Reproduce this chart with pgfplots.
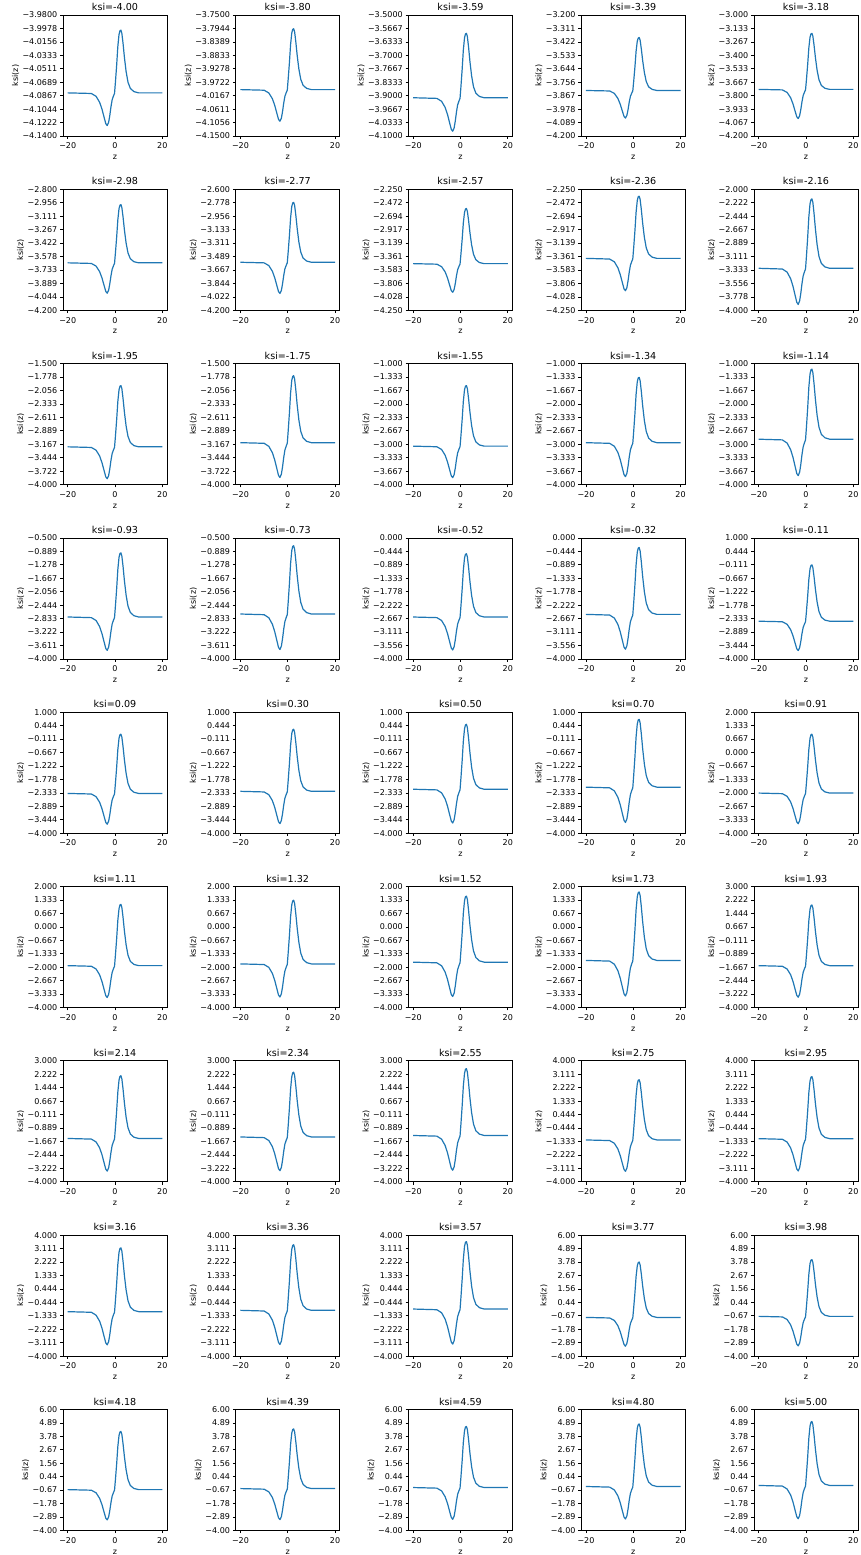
\documentclass[border=0pt]{standalone}
\usepackage{fontspec}
\setmainfont{DejaVu Sans}
\usepackage{pgfplots}
\pgfplotsset{compat=1.18}
\definecolor{mplblue}{HTML}{1F77B4}
\pgfplotsset{
 every axis title shift=0pt,
 panel/.style={scale only axis, width=104pt, height=121pt, anchor=north west,
  xmin=-22, xmax=22, xtick={-20,0,20}, xticklabels={−20,0,20},
  tick align=outside, major tick length=2.8pt,
  xtick pos=left, ytick pos=left,
  tick style={black, line width=0.64pt},
  axis line style={black, line width=0.64pt},
  ticklabel style={font=\fontsize{8}{9.6}\selectfont},
  xticklabel style={anchor=north, inner sep=0pt, yshift=-3.8pt},
  yticklabel style={anchor=east, inner sep=0pt, xshift=-2.8pt},
  xlabel={z}, ylabel={ksi(z)},
  label style={font=\fontsize{8}{9.6}\selectfont},
  xlabel style={at={(axis description cs:0.5,0)}, anchor=base, inner sep=0pt, yshift=-23.6pt},
  ylabel style={inner sep=3.2pt},
  title style={font=\fontsize{9.6}{11.5}\selectfont, at={(0.5,1)}, anchor=base, inner sep=0pt, yshift=4.3pt},
 },
 curve/.style={mplblue, line width=1.2pt, no markers, line join=round},
 rA/.style={ymin=-4.14,ymax=-3.98, ytick={-4.14,-4.12222,-4.10444,-4.08667,-4.06889,-4.05111,-4.03333,-4.01556,-3.99778,-3.98}, yticklabels={−4.1400,−4.1222,−4.1044,−4.0867,−4.0689,−4.0511,−4.0333,−4.0156,−3.9978,−3.9800}},
 rB/.style={ymin=-4.15,ymax=-3.75, ytick={-4.15,-4.10556,-4.06111,-4.01667,-3.97222,-3.92778,-3.88333,-3.83889,-3.79444,-3.75}, yticklabels={−4.1500,−4.1056,−4.0611,−4.0167,−3.9722,−3.9278,−3.8833,−3.8389,−3.7944,−3.7500}},
 rC/.style={ymin=-4.1,ymax=-3.5, ytick={-4.1,-4.03333,-3.96667,-3.9,-3.83333,-3.76667,-3.7,-3.63333,-3.56667,-3.5}, yticklabels={−4.1000,−4.0333,−3.9667,−3.9000,−3.8333,−3.7667,−3.7000,−3.6333,−3.5667,−3.5000}},
 rD/.style={ymin=-4.2,ymax=-3.2, ytick={-4.2,-4.08889,-3.97778,-3.86667,-3.75556,-3.64444,-3.53333,-3.42222,-3.31111,-3.2}, yticklabels={−4.200,−4.089,−3.978,−3.867,−3.756,−3.644,−3.533,−3.422,−3.311,−3.200}},
 rE/.style={ymin=-4.2,ymax=-3.0, ytick={-4.2,-4.06667,-3.93333,-3.8,-3.66667,-3.53333,-3.4,-3.26667,-3.13333,-3.0}, yticklabels={−4.200,−4.067,−3.933,−3.800,−3.667,−3.533,−3.400,−3.267,−3.133,−3.000}},
 rF/.style={ymin=-4.2,ymax=-2.8, ytick={-4.2,-4.04444,-3.88889,-3.73333,-3.57778,-3.42222,-3.26667,-3.11111,-2.95556,-2.8}, yticklabels={−4.200,−4.044,−3.889,−3.733,−3.578,−3.422,−3.267,−3.111,−2.956,−2.800}},
 rG/.style={ymin=-4.2,ymax=-2.6, ytick={-4.2,-4.02222,-3.84444,-3.66667,-3.48889,-3.31111,-3.13333,-2.95556,-2.77778,-2.6}, yticklabels={−4.200,−4.022,−3.844,−3.667,−3.489,−3.311,−3.133,−2.956,−2.778,−2.600}},
 rH/.style={ymin=-4.25,ymax=-2.25, ytick={-4.25,-4.02778,-3.80556,-3.58333,-3.36111,-3.13889,-2.91667,-2.69444,-2.47222,-2.25}, yticklabels={−4.250,−4.028,−3.806,−3.583,−3.361,−3.139,−2.917,−2.694,−2.472,−2.250}},
 rI/.style={ymin=-4,ymax=-2, ytick={-4,-3.77778,-3.55556,-3.33333,-3.11111,-2.88889,-2.66667,-2.44444,-2.22222,-2}, yticklabels={−4.000,−3.778,−3.556,−3.333,−3.111,−2.889,−2.667,−2.444,−2.222,−2.000}},
 rJ/.style={ymin=-4,ymax=-1.5, ytick={-4,-3.72222,-3.44444,-3.16667,-2.88889,-2.61111,-2.33333,-2.05556,-1.77778,-1.5}, yticklabels={−4.000,−3.722,−3.444,−3.167,−2.889,−2.611,−2.333,−2.056,−1.778,−1.500}},
 rK/.style={ymin=-4,ymax=-1, ytick={-4,-3.66667,-3.33333,-3,-2.66667,-2.33333,-2,-1.66667,-1.33333,-1}, yticklabels={−4.000,−3.667,−3.333,−3.000,−2.667,−2.333,−2.000,−1.667,−1.333,−1.000}},
 rL/.style={ymin=-4,ymax=-0.5, ytick={-4,-3.61111,-3.22222,-2.83333,-2.44444,-2.05556,-1.66667,-1.27778,-0.88889,-0.5}, yticklabels={−4.000,−3.611,−3.222,−2.833,−2.444,−2.056,−1.667,−1.278,−0.889,−0.500}},
 rM/.style={ymin=-4,ymax=0, ytick={-4,-3.55556,-3.11111,-2.66667,-2.22222,-1.77778,-1.33333,-0.88889,-0.44444,0}, yticklabels={−4.000,−3.556,−3.111,−2.667,−2.222,−1.778,−1.333,−0.889,−0.444,0.000}},
 rN/.style={ymin=-4,ymax=1, ytick={-4,-3.44444,-2.88889,-2.33333,-1.77778,-1.22222,-0.66667,-0.11111,0.44444,1}, yticklabels={−4.000,−3.444,−2.889,−2.333,−1.778,−1.222,−0.667,−0.111,0.444,1.000}},
 rO/.style={ymin=-4,ymax=2, ytick={-4,-3.33333,-2.66667,-2,-1.33333,-0.66667,0,0.66667,1.33333,2}, yticklabels={−4.000,−3.333,−2.667,−2.000,−1.333,−0.667,0.000,0.667,1.333,2.000}},
 rP/.style={ymin=-4,ymax=3, ytick={-4,-3.22222,-2.44444,-1.66667,-0.88889,-0.11111,0.66667,1.44444,2.22222,3}, yticklabels={−4.000,−3.222,−2.444,−1.667,−0.889,−0.111,0.667,1.444,2.222,3.000}},
 rQ/.style={ymin=-4,ymax=4, ytick={-4,-3.11111,-2.22222,-1.33333,-0.44444,0.44444,1.33333,2.22222,3.11111,4}, yticklabels={−4.000,−3.111,−2.222,−1.333,−0.444,0.444,1.333,2.222,3.111,4.000}},
 rR/.style={ymin=-4,ymax=6, ytick={-4,-2.88889,-1.77778,-0.66667,0.44444,1.55556,2.66667,3.77778,4.88889,6}, yticklabels={−4.00,−2.89,−1.78,−0.67,0.44,1.56,2.67,3.78,4.89,6.00}},
}
\newcommand{\pan}[5]{\begin{axis}[panel,#4,at={(#1pt,#2pt)},title={ksi=#3}]\addplot[curve] coordinates {#5};\end{axis}}
\begin{document}
\begin{tikzpicture}
% row 1
\pan{63}{1540}{-4.00}{rA}{(-20,-4.0830)(-10,-4.0838)(-8,-4.0876)(-6.5,-4.0955)(-5.5,-4.1046)(-4.6,-4.1154)(-3.9,-4.1237)(-3.3,-4.1262)(-2.7,-4.1220)(-2.2,-4.1129)(-1.7,-4.1013)(-1.2,-4.0921)(-0.6,-4.0867)(-0.2,-4.0838)(0.2,-4.0681)(0.7,-4.0465)(1.2,-4.0216)(1.7,-4.0058)(2.1,-4.0008)(2.5,-4.0000)(2.9,-4.0042)(3.4,-4.0174)(4,-4.0365)(4.7,-4.0548)(5.5,-4.0689)(6.5,-4.0772)(8,-4.0813)(10,-4.0830)(20,-4.0830)}
\pan{235.75}{1540}{-3.80}{rB}{(-20,-3.9967)(-10,-3.9987)(-8,-4.0078)(-6.5,-4.0269)(-5.5,-4.0490)(-4.6,-4.0752)(-3.9,-4.0953)(-3.3,-4.1013)(-2.7,-4.0913)(-2.2,-4.0691)(-1.7,-4.0410)(-1.2,-4.0188)(-0.6,-4.0058)(-0.2,-3.9987)(0.2,-3.9605)(0.7,-3.9082)(1.2,-3.8478)(1.7,-3.8096)(2.1,-3.7975)(2.5,-3.7955)(2.9,-3.8056)(3.4,-3.8378)(4,-3.8840)(4.7,-3.9283)(5.5,-3.9625)(6.5,-3.9826)(8,-3.9927)(10,-3.9967)(20,-3.9967)}
\pan{408.5}{1540}{-3.59}{rC}{(-20,-3.9104)(-10,-3.9136)(-8,-3.9280)(-6.5,-3.9583)(-5.5,-3.9935)(-4.6,-4.0350)(-3.9,-4.0670)(-3.3,-4.0765)(-2.7,-4.0606)(-2.2,-4.0254)(-1.7,-3.9807)(-1.2,-3.9456)(-0.6,-3.9248)(-0.2,-3.9136)(0.2,-3.8529)(0.7,-3.7698)(1.2,-3.6740)(1.7,-3.6133)(2.1,-3.5941)(2.5,-3.5909)(2.9,-3.6069)(3.4,-3.6580)(4,-3.7315)(4.7,-3.8018)(5.5,-3.8561)(6.5,-3.8880)(8,-3.9040)(10,-3.9104)(20,-3.9104)}
\pan{581.25}{1540}{-3.39}{rD}{(-20,-3.824)(-10,-3.828)(-8,-3.848)(-6.5,-3.890)(-5.5,-3.938)(-4.6,-3.995)(-3.9,-4.039)(-3.3,-4.052)(-2.7,-4.030)(-2.2,-3.982)(-1.7,-3.920)(-1.2,-3.872)(-0.6,-3.844)(-0.2,-3.828)(0.2,-3.745)(0.7,-3.632)(1.2,-3.500)(1.7,-3.417)(2.1,-3.391)(2.5,-3.386)(2.9,-3.408)(3.4,-3.478)(4,-3.579)(4.7,-3.675)(5.5,-3.750)(6.5,-3.794)(8,-3.815)(10,-3.824)(20,-3.824)}
\pan{754}{1540}{-3.18}{rE}{(-20,-3.738)(-10,-3.743)(-8,-3.768)(-6.5,-3.821)(-5.5,-3.882)(-4.6,-3.955)(-3.9,-4.010)(-3.3,-4.027)(-2.7,-3.999)(-2.2,-3.938)(-1.7,-3.860)(-1.2,-3.799)(-0.6,-3.763)(-0.2,-3.743)(0.2,-3.638)(0.7,-3.493)(1.2,-3.326)(1.7,-3.221)(2.1,-3.187)(2.5,-3.182)(2.9,-3.210)(3.4,-3.299)(4,-3.426)(4.7,-3.549)(5.5,-3.643)(6.5,-3.699)(8,-3.727)(10,-3.738)(20,-3.738)}
% row 2
\pan{63}{1365.7}{-2.98}{rF}{(-20,-3.651)(-10,-3.658)(-8,-3.689)(-6.5,-3.753)(-5.5,-3.827)(-4.6,-3.914)(-3.9,-3.982)(-3.3,-4.002)(-2.7,-3.968)(-2.2,-3.894)(-1.7,-3.800)(-1.2,-3.726)(-0.6,-3.682)(-0.2,-3.658)(0.2,-3.530)(0.7,-3.355)(1.2,-3.153)(1.7,-3.024)(2.1,-2.984)(2.5,-2.977)(2.9,-3.011)(3.4,-3.119)(4,-3.274)(4.7,-3.422)(5.5,-3.537)(6.5,-3.604)(8,-3.638)(10,-3.651)(20,-3.651)}
\pan{235.75}{1365.7}{-2.77}{rG}{(-20,-3.565)(-10,-3.573)(-8,-3.609)(-6.5,-3.684)(-5.5,-3.771)(-4.6,-3.874)(-3.9,-3.953)(-3.3,-3.977)(-2.7,-3.938)(-2.2,-3.850)(-1.7,-3.739)(-1.2,-3.652)(-0.6,-3.601)(-0.2,-3.573)(0.2,-3.423)(0.7,-3.216)(1.2,-2.979)(1.7,-2.828)(2.1,-2.781)(2.5,-2.773)(2.9,-2.812)(3.4,-2.939)(4,-3.121)(4.7,-3.296)(5.5,-3.430)(6.5,-3.510)(8,-3.549)(10,-3.565)(20,-3.565)}
\pan{408.5}{1365.7}{-2.57}{rH}{(-20,-3.479)(-10,-3.488)(-8,-3.529)(-6.5,-3.615)(-5.5,-3.716)(-4.6,-3.834)(-3.9,-3.925)(-3.3,-3.952)(-2.7,-3.907)(-2.2,-3.807)(-1.7,-3.679)(-1.2,-3.579)(-0.6,-3.520)(-0.2,-3.488)(0.2,-3.315)(0.7,-3.078)(1.2,-2.805)(1.7,-2.632)(2.1,-2.577)(2.5,-2.568)(2.9,-2.614)(3.4,-2.759)(4,-2.969)(4.7,-3.169)(5.5,-3.324)(6.5,-3.415)(8,-3.461)(10,-3.479)(20,-3.479)}
\pan{581.25}{1365.7}{-2.36}{rH}{(-20,-3.392)(-10,-3.403)(-8,-3.449)(-6.5,-3.547)(-5.5,-3.660)(-4.6,-3.794)(-3.9,-3.897)(-3.3,-3.927)(-2.7,-3.876)(-2.2,-3.763)(-1.7,-3.619)(-1.2,-3.506)(-0.6,-3.439)(-0.2,-3.403)(0.2,-3.207)(0.7,-2.940)(1.2,-2.631)(1.7,-2.436)(2.1,-2.374)(2.5,-2.364)(2.9,-2.415)(3.4,-2.580)(4,-2.816)(4.7,-3.043)(5.5,-3.218)(6.5,-3.320)(8,-3.372)(10,-3.392)(20,-3.392)}
\pan{754}{1365.7}{-2.16}{rI}{(-20,-3.306)(-10,-3.318)(-8,-3.369)(-6.5,-3.478)(-5.5,-3.604)(-4.6,-3.754)(-3.9,-3.868)(-3.3,-3.903)(-2.7,-3.845)(-2.2,-3.719)(-1.7,-3.559)(-1.2,-3.432)(-0.6,-3.358)(-0.2,-3.318)(0.2,-3.100)(0.7,-2.801)(1.2,-2.457)(1.7,-2.239)(2.1,-2.171)(2.5,-2.159)(2.9,-2.216)(3.4,-2.400)(4,-2.664)(4.7,-2.916)(5.5,-3.111)(6.5,-3.226)(8,-3.283)(10,-3.306)(20,-3.306)}
% row 3
\pan{63}{1191.4}{-1.95}{rJ}{(-20,-3.220)(-10,-3.233)(-8,-3.289)(-6.5,-3.410)(-5.5,-3.549)(-4.6,-3.713)(-3.9,-3.840)(-3.3,-3.878)(-2.7,-3.815)(-2.2,-3.675)(-1.7,-3.498)(-1.2,-3.359)(-0.6,-3.277)(-0.2,-3.233)(0.2,-2.992)(0.7,-2.663)(1.2,-2.284)(1.7,-2.043)(2.1,-1.967)(2.5,-1.955)(2.9,-2.018)(3.4,-2.220)(4,-2.511)(4.7,-2.790)(5.5,-3.005)(6.5,-3.131)(8,-3.195)(10,-3.220)(20,-3.220)}
\pan{235.75}{1191.4}{-1.75}{rJ}{(-20,-3.134)(-10,-3.147)(-8,-3.210)(-6.5,-3.341)(-5.5,-3.493)(-4.6,-3.673)(-3.9,-3.811)(-3.3,-3.853)(-2.7,-3.784)(-2.2,-3.632)(-1.7,-3.438)(-1.2,-3.286)(-0.6,-3.196)(-0.2,-3.147)(0.2,-2.884)(0.7,-2.525)(1.2,-2.110)(1.7,-1.847)(2.1,-1.764)(2.5,-1.750)(2.9,-1.819)(3.4,-2.041)(4,-2.359)(4.7,-2.663)(5.5,-2.898)(6.5,-3.037)(8,-3.106)(10,-3.134)(20,-3.134)}
\pan{408.5}{1191.4}{-1.55}{rK}{(-20,-3.047)(-10,-3.062)(-8,-3.130)(-6.5,-3.272)(-5.5,-3.438)(-4.6,-3.633)(-3.9,-3.783)(-3.3,-3.828)(-2.7,-3.753)(-2.2,-3.588)(-1.7,-3.378)(-1.2,-3.212)(-0.6,-3.115)(-0.2,-3.062)(0.2,-2.777)(0.7,-2.386)(1.2,-1.936)(1.7,-1.650)(2.1,-1.560)(2.5,-1.545)(2.9,-1.620)(3.4,-1.861)(4,-2.206)(4.7,-2.537)(5.5,-2.792)(6.5,-2.942)(8,-3.017)(10,-3.047)(20,-3.047)}
\pan{581.25}{1191.4}{-1.34}{rK}{(-20,-2.961)(-10,-2.977)(-8,-3.050)(-6.5,-3.204)(-5.5,-3.382)(-4.6,-3.593)(-3.9,-3.755)(-3.3,-3.803)(-2.7,-3.722)(-2.2,-3.544)(-1.7,-3.317)(-1.2,-3.139)(-0.6,-3.034)(-0.2,-2.977)(0.2,-2.669)(0.7,-2.248)(1.2,-1.762)(1.7,-1.454)(2.1,-1.357)(2.5,-1.341)(2.9,-1.422)(3.4,-1.681)(4,-2.054)(4.7,-2.410)(5.5,-2.685)(6.5,-2.847)(8,-2.928)(10,-2.961)(20,-2.961)}
\pan{754}{1191.4}{-1.14}{rK}{(-20,-2.875)(-10,-2.892)(-8,-2.970)(-6.5,-3.135)(-5.5,-3.326)(-4.6,-3.552)(-3.9,-3.726)(-3.3,-3.778)(-2.7,-3.692)(-2.2,-3.500)(-1.7,-3.257)(-1.2,-3.066)(-0.6,-2.953)(-0.2,-2.892)(0.2,-2.562)(0.7,-2.110)(1.2,-1.588)(1.7,-1.258)(2.1,-1.154)(2.5,-1.136)(2.9,-1.223)(3.4,-1.501)(4,-1.901)(4.7,-2.284)(5.5,-2.579)(6.5,-2.753)(8,-2.840)(10,-2.875)(20,-2.875)}
% row 4
\pan{63}{1017.1}{-0.93}{rL}{(-20,-2.788)(-10,-2.807)(-8,-2.890)(-6.5,-3.067)(-5.5,-3.271)(-4.6,-3.512)(-3.9,-3.698)(-3.3,-3.754)(-2.7,-3.661)(-2.2,-3.457)(-1.7,-3.197)(-1.2,-2.992)(-0.6,-2.872)(-0.2,-2.807)(0.2,-2.454)(0.7,-1.971)(1.2,-1.414)(1.7,-1.062)(2.1,-0.950)(2.5,-0.932)(2.9,-1.025)(3.4,-1.322)(4,-1.749)(4.7,-2.157)(5.5,-2.473)(6.5,-2.658)(8,-2.751)(10,-2.788)(20,-2.788)}
\pan{235.75}{1017.1}{-0.73}{rL}{(-20,-2.702)(-10,-2.722)(-8,-2.811)(-6.5,-2.998)(-5.5,-3.215)(-4.6,-3.472)(-3.9,-3.670)(-3.3,-3.729)(-2.7,-3.630)(-2.2,-3.413)(-1.7,-3.136)(-1.2,-2.919)(-0.6,-2.791)(-0.2,-2.722)(0.2,-2.347)(0.7,-1.833)(1.2,-1.241)(1.7,-0.865)(2.1,-0.747)(2.5,-0.727)(2.9,-0.826)(3.4,-1.142)(4,-1.596)(4.7,-2.031)(5.5,-2.366)(6.5,-2.564)(8,-2.662)(10,-2.702)(20,-2.702)}
\pan{408.5}{1017.1}{-0.52}{rM}{(-20,-2.616)(-10,-2.636)(-8,-2.731)(-6.5,-2.929)(-5.5,-3.160)(-4.6,-3.432)(-3.9,-3.641)(-3.3,-3.704)(-2.7,-3.599)(-2.2,-3.369)(-1.7,-3.076)(-1.2,-2.846)(-0.6,-2.710)(-0.2,-2.636)(0.2,-2.239)(0.7,-1.695)(1.2,-1.067)(1.7,-0.669)(2.1,-0.544)(2.5,-0.523)(2.9,-0.627)(3.4,-0.962)(4,-1.444)(4.7,-1.904)(5.5,-2.260)(6.5,-2.469)(8,-2.574)(10,-2.616)(20,-2.616)}
\pan{581.25}{1017.1}{-0.32}{rM}{(-20,-2.529)(-10,-2.551)(-8,-2.651)(-6.5,-2.861)(-5.5,-3.104)(-4.6,-3.392)(-3.9,-3.613)(-3.3,-3.679)(-2.7,-3.568)(-2.2,-3.325)(-1.7,-3.016)(-1.2,-2.772)(-0.6,-2.629)(-0.2,-2.551)(0.2,-2.131)(0.7,-1.556)(1.2,-0.893)(1.7,-0.473)(2.1,-0.340)(2.5,-0.318)(2.9,-0.429)(3.4,-0.782)(4,-1.291)(4.7,-1.777)(5.5,-2.153)(6.5,-2.374)(8,-2.485)(10,-2.529)(20,-2.529)}
\pan{754}{1017.1}{-0.11}{rN}{(-20,-2.443)(-10,-2.466)(-8,-2.571)(-6.5,-2.792)(-5.5,-3.049)(-4.6,-3.351)(-3.9,-3.584)(-3.3,-3.654)(-2.7,-3.538)(-2.2,-3.282)(-1.7,-2.955)(-1.2,-2.699)(-0.6,-2.548)(-0.2,-2.466)(0.2,-2.024)(0.7,-1.418)(1.2,-0.719)(1.7,-0.277)(2.1,-0.137)(2.5,-0.114)(2.9,-0.230)(3.4,-0.603)(4,-1.138)(4.7,-1.651)(5.5,-2.047)(6.5,-2.280)(8,-2.396)(10,-2.443)(20,-2.443)}
% row 5
\pan{63}{842.8}{0.09}{rN}{(-20,-2.357)(-10,-2.381)(-8,-2.491)(-6.5,-2.724)(-5.5,-2.993)(-4.6,-3.311)(-3.9,-3.556)(-3.3,-3.629)(-2.7,-3.507)(-2.2,-3.238)(-1.7,-2.895)(-1.2,-2.626)(-0.6,-2.467)(-0.2,-2.381)(0.2,-1.916)(0.7,-1.280)(1.2,-0.545)(1.7,-0.080)(2.1,0.067)(2.5,0.091)(2.9,-0.031)(3.4,-0.423)(4,-0.986)(4.7,-1.524)(5.5,-1.941)(6.5,-2.185)(8,-2.308)(10,-2.357)(20,-2.357)}
\pan{235.75}{842.8}{0.30}{rN}{(-20,-2.270)(-10,-2.296)(-8,-2.411)(-6.5,-2.655)(-5.5,-2.937)(-4.6,-3.271)(-3.9,-3.527)(-3.3,-3.604)(-2.7,-3.476)(-2.2,-3.194)(-1.7,-2.835)(-1.2,-2.552)(-0.6,-2.386)(-0.2,-2.296)(0.2,-1.808)(0.7,-1.141)(1.2,-0.372)(1.7,0.116)(2.1,0.270)(2.5,0.296)(2.9,0.167)(3.4,-0.243)(4,-0.833)(4.7,-1.398)(5.5,-1.834)(6.5,-2.091)(8,-2.219)(10,-2.270)(20,-2.270)}
\pan{408.5}{842.8}{0.50}{rN}{(-20,-2.184)(-10,-2.211)(-8,-2.332)(-6.5,-2.587)(-5.5,-2.882)(-4.6,-3.231)(-3.9,-3.499)(-3.3,-3.580)(-2.7,-3.445)(-2.2,-3.150)(-1.7,-2.774)(-1.2,-2.479)(-0.6,-2.305)(-0.2,-2.211)(0.2,-1.701)(0.7,-1.003)(1.2,-0.198)(1.7,0.312)(2.1,0.473)(2.5,0.500)(2.9,0.366)(3.4,-0.064)(4,-0.681)(4.7,-1.271)(5.5,-1.728)(6.5,-1.996)(8,-2.130)(10,-2.184)(20,-2.184)}
\pan{581.25}{842.8}{0.70}{rN}{(-20,-2.098)(-10,-2.126)(-8,-2.252)(-6.5,-2.518)(-5.5,-2.826)(-4.6,-3.191)(-3.9,-3.471)(-3.3,-3.555)(-2.7,-3.415)(-2.2,-3.106)(-1.7,-2.714)(-1.2,-2.406)(-0.6,-2.224)(-0.2,-2.126)(0.2,-1.593)(0.7,-0.865)(1.2,-0.024)(1.7,0.509)(2.1,0.677)(2.5,0.705)(2.9,0.565)(3.4,0.116)(4,-0.528)(4.7,-1.145)(5.5,-1.621)(6.5,-1.901)(8,-2.042)(10,-2.098)(20,-2.098)}
\pan{754}{842.8}{0.91}{rO}{(-20,-2.011)(-10,-2.041)(-8,-2.172)(-6.5,-2.449)(-5.5,-2.771)(-4.6,-3.150)(-3.9,-3.442)(-3.3,-3.530)(-2.7,-3.384)(-2.2,-3.063)(-1.7,-2.654)(-1.2,-2.333)(-0.6,-2.143)(-0.2,-2.041)(0.2,-1.486)(0.7,-0.726)(1.2,0.150)(1.7,0.705)(2.1,0.880)(2.5,0.909)(2.9,0.763)(3.4,0.296)(4,-0.376)(4.7,-1.018)(5.5,-1.515)(6.5,-1.807)(8,-1.953)(10,-2.011)(20,-2.011)}
% row 6
\pan{63}{668.5}{1.11}{rO}{(-20,-1.925)(-10,-1.955)(-8,-2.092)(-6.5,-2.381)(-5.5,-2.715)(-4.6,-3.110)(-3.9,-3.414)(-3.3,-3.505)(-2.7,-3.353)(-2.2,-3.019)(-1.7,-2.593)(-1.2,-2.259)(-0.6,-2.062)(-0.2,-1.955)(0.2,-1.378)(0.7,-0.588)(1.2,0.324)(1.7,0.901)(2.1,1.084)(2.5,1.114)(2.9,0.962)(3.4,0.476)(4,-0.223)(4.7,-0.892)(5.5,-1.408)(6.5,-1.712)(8,-1.864)(10,-1.925)(20,-1.925)}
\pan{235.75}{668.5}{1.32}{rO}{(-20,-1.839)(-10,-1.870)(-8,-2.012)(-6.5,-2.312)(-5.5,-2.659)(-4.6,-3.070)(-3.9,-3.386)(-3.3,-3.480)(-2.7,-3.322)(-2.2,-2.975)(-1.7,-2.533)(-1.2,-2.186)(-0.6,-1.981)(-0.2,-1.870)(0.2,-1.270)(0.7,-0.450)(1.2,0.498)(1.7,1.097)(2.1,1.287)(2.5,1.318)(2.9,1.161)(3.4,0.655)(4,-0.071)(4.7,-0.765)(5.5,-1.302)(6.5,-1.618)(8,-1.776)(10,-1.839)(20,-1.839)}
\pan{408.5}{668.5}{1.52}{rO}{(-20,-1.752)(-10,-1.785)(-8,-1.932)(-6.5,-2.244)(-5.5,-2.604)(-4.6,-3.030)(-3.9,-3.357)(-3.3,-3.455)(-2.7,-3.292)(-2.2,-2.931)(-1.7,-2.473)(-1.2,-2.113)(-0.6,-1.900)(-0.2,-1.785)(0.2,-1.163)(0.7,-0.311)(1.2,0.671)(1.7,1.294)(2.1,1.490)(2.5,1.523)(2.9,1.359)(3.4,0.835)(4,0.082)(4.7,-0.639)(5.5,-1.196)(6.5,-1.523)(8,-1.687)(10,-1.752)(20,-1.752)}
\pan{581.25}{668.5}{1.73}{rO}{(-20,-1.666)(-10,-1.700)(-8,-1.853)(-6.5,-2.175)(-5.5,-2.548)(-4.6,-2.989)(-3.9,-3.329)(-3.3,-3.431)(-2.7,-3.261)(-2.2,-2.888)(-1.7,-2.413)(-1.2,-2.039)(-0.6,-1.819)(-0.2,-1.700)(0.2,-1.055)(0.7,-0.173)(1.2,0.845)(1.7,1.490)(2.1,1.694)(2.5,1.727)(2.9,1.558)(3.4,1.015)(4,0.234)(4.7,-0.512)(5.5,-1.089)(6.5,-1.429)(8,-1.598)(10,-1.666)(20,-1.666)}
\pan{754}{668.5}{1.93}{rP}{(-20,-1.580)(-10,-1.615)(-8,-1.773)(-6.5,-2.106)(-5.5,-2.493)(-4.6,-2.949)(-3.9,-3.300)(-3.3,-3.406)(-2.7,-3.230)(-2.2,-2.844)(-1.7,-2.352)(-1.2,-1.966)(-0.6,-1.738)(-0.2,-1.615)(0.2,-0.948)(0.7,-0.035)(1.2,1.019)(1.7,1.686)(2.1,1.897)(2.5,1.932)(2.9,1.757)(3.4,1.195)(4,0.387)(4.7,-0.386)(5.5,-0.983)(6.5,-1.334)(8,-1.509)(10,-1.580)(20,-1.580)}
% row 7
\pan{63}{494.2}{2.14}{rP}{(-20,-1.493)(-10,-1.530)(-8,-1.693)(-6.5,-2.038)(-5.5,-2.437)(-4.6,-2.909)(-3.9,-3.272)(-3.3,-3.381)(-2.7,-3.199)(-2.2,-2.800)(-1.7,-2.292)(-1.2,-1.893)(-0.6,-1.657)(-0.2,-1.530)(0.2,-0.840)(0.7,0.104)(1.2,1.193)(1.7,1.883)(2.1,2.100)(2.5,2.137)(2.9,1.955)(3.4,1.374)(4,0.539)(4.7,-0.259)(5.5,-0.876)(6.5,-1.239)(8,-1.421)(10,-1.493)(20,-1.493)}
\pan{235.75}{494.2}{2.34}{rP}{(-20,-1.407)(-10,-1.445)(-8,-1.613)(-6.5,-1.969)(-5.5,-2.382)(-4.6,-2.869)(-3.9,-3.244)(-3.3,-3.356)(-2.7,-3.169)(-2.2,-2.756)(-1.7,-2.232)(-1.2,-1.819)(-0.6,-1.576)(-0.2,-1.445)(0.2,-0.732)(0.7,0.242)(1.2,1.367)(1.7,2.079)(2.1,2.304)(2.5,2.341)(2.9,2.154)(3.4,1.554)(4,0.692)(4.7,-0.133)(5.5,-0.770)(6.5,-1.145)(8,-1.332)(10,-1.407)(20,-1.407)}
\pan{408.5}{494.2}{2.55}{rP}{(-20,-1.321)(-10,-1.359)(-8,-1.533)(-6.5,-1.901)(-5.5,-2.326)(-4.6,-2.829)(-3.9,-3.215)(-3.3,-3.331)(-2.7,-3.138)(-2.2,-2.713)(-1.7,-2.171)(-1.2,-1.746)(-0.6,-1.495)(-0.2,-1.359)(0.2,-0.625)(0.7,0.381)(1.2,1.540)(1.7,2.275)(2.1,2.507)(2.5,2.546)(2.9,2.352)(3.4,1.734)(4,0.845)(4.7,-0.006)(5.5,-0.663)(6.5,-1.050)(8,-1.243)(10,-1.321)(20,-1.321)}
\pan{581.25}{494.2}{2.75}{rQ}{(-20,-1.234)(-10,-1.274)(-8,-1.454)(-6.5,-1.832)(-5.5,-2.270)(-4.6,-2.788)(-3.9,-3.187)(-3.3,-3.306)(-2.7,-3.107)(-2.2,-2.669)(-1.7,-2.111)(-1.2,-1.673)(-0.6,-1.414)(-0.2,-1.274)(0.2,-0.517)(0.7,0.519)(1.2,1.714)(1.7,2.471)(2.1,2.710)(2.5,2.750)(2.9,2.551)(3.4,1.913)(4,0.997)(4.7,0.120)(5.5,-0.557)(6.5,-0.956)(8,-1.155)(10,-1.234)(20,-1.234)}
\pan{754}{494.2}{2.95}{rQ}{(-20,-1.148)(-10,-1.189)(-8,-1.374)(-6.5,-1.763)(-5.5,-2.215)(-4.6,-2.748)(-3.9,-3.158)(-3.3,-3.282)(-2.7,-3.076)(-2.2,-2.625)(-1.7,-2.051)(-1.2,-1.599)(-0.6,-1.333)(-0.2,-1.189)(0.2,-0.410)(0.7,0.657)(1.2,1.888)(1.7,2.668)(2.1,2.914)(2.5,2.955)(2.9,2.750)(3.4,2.093)(4,1.150)(4.7,0.247)(5.5,-0.451)(6.5,-0.861)(8,-1.066)(10,-1.148)(20,-1.148)}
% row 8
\pan{63}{319.9}{3.16}{rQ}{(-20,-1.062)(-10,-1.104)(-8,-1.294)(-6.5,-1.695)(-5.5,-2.159)(-4.6,-2.708)(-3.9,-3.130)(-3.3,-3.257)(-2.7,-3.046)(-2.2,-2.581)(-1.7,-1.990)(-1.2,-1.526)(-0.6,-1.252)(-0.2,-1.104)(0.2,-0.302)(0.7,0.796)(1.2,2.062)(1.7,2.864)(2.1,3.117)(2.5,3.159)(2.9,2.948)(3.4,2.273)(4,1.302)(4.7,0.374)(5.5,-0.344)(6.5,-0.766)(8,-0.977)(10,-1.062)(20,-1.062)}
\pan{235.75}{319.9}{3.36}{rQ}{(-20,-0.975)(-10,-1.019)(-8,-1.214)(-6.5,-1.626)(-5.5,-2.104)(-4.6,-2.668)(-3.9,-3.102)(-3.3,-3.232)(-2.7,-3.015)(-2.2,-2.538)(-1.7,-1.930)(-1.2,-1.453)(-0.6,-1.171)(-0.2,-1.019)(0.2,-0.194)(0.7,0.934)(1.2,2.236)(1.7,3.060)(2.1,3.321)(2.5,3.364)(2.9,3.147)(3.4,2.453)(4,1.455)(4.7,0.500)(5.5,-0.238)(6.5,-0.672)(8,-0.889)(10,-0.975)(20,-0.975)}
\pan{408.5}{319.9}{3.57}{rQ}{(-20,-0.889)(-10,-0.934)(-8,-1.134)(-6.5,-1.558)(-5.5,-2.048)(-4.6,-2.628)(-3.9,-3.073)(-3.3,-3.207)(-2.7,-2.984)(-2.2,-2.494)(-1.7,-1.870)(-1.2,-1.379)(-0.6,-1.090)(-0.2,-0.934)(0.2,-0.087)(0.7,1.072)(1.2,2.410)(1.7,3.256)(2.1,3.524)(2.5,3.568)(2.9,3.346)(3.4,2.632)(4,1.607)(4.7,0.627)(5.5,-0.131)(6.5,-0.577)(8,-0.800)(10,-0.889)(20,-0.889)}
\pan{581.25}{319.9}{3.77}{rR}{(-20,-0.803)(-10,-0.849)(-8,-1.054)(-6.5,-1.489)(-5.5,-1.992)(-4.6,-2.587)(-3.9,-3.045)(-3.3,-3.182)(-2.7,-2.953)(-2.2,-2.450)(-1.7,-1.809)(-1.2,-1.306)(-0.6,-1.009)(-0.2,-0.849)(0.2,0.021)(0.7,1.211)(1.2,2.583)(1.7,3.453)(2.1,3.727)(2.5,3.773)(2.9,3.544)(3.4,2.812)(4,1.760)(4.7,0.753)(5.5,-0.025)(6.5,-0.482)(8,-0.711)(10,-0.803)(20,-0.803)}
\pan{754}{319.9}{3.98}{rR}{(-20,-0.716)(-10,-0.763)(-8,-0.975)(-6.5,-1.421)(-5.5,-1.937)(-4.6,-2.547)(-3.9,-3.017)(-3.3,-3.157)(-2.7,-2.923)(-2.2,-2.406)(-1.7,-1.749)(-1.2,-1.233)(-0.6,-0.928)(-0.2,-0.763)(0.2,0.129)(0.7,1.349)(1.2,2.757)(1.7,3.649)(2.1,3.931)(2.5,3.978)(2.9,3.743)(3.4,2.992)(4,1.912)(4.7,0.880)(5.5,0.082)(6.5,-0.388)(8,-0.623)(10,-0.716)(20,-0.716)}
% row 9
\pan{63}{145.6}{4.18}{rR}{(-20,-0.630)(-10,-0.678)(-8,-0.895)(-6.5,-1.352)(-5.5,-1.881)(-4.6,-2.507)(-3.9,-2.988)(-3.3,-3.132)(-2.7,-2.892)(-2.2,-2.363)(-1.7,-1.689)(-1.2,-1.159)(-0.6,-0.847)(-0.2,-0.678)(0.2,0.236)(0.7,1.487)(1.2,2.931)(1.7,3.845)(2.1,4.134)(2.5,4.182)(2.9,3.942)(3.4,3.172)(4,2.065)(4.7,1.006)(5.5,0.188)(6.5,-0.293)(8,-0.534)(10,-0.630)(20,-0.630)}
\pan{235.75}{145.6}{4.39}{rR}{(-20,-0.544)(-10,-0.593)(-8,-0.815)(-6.5,-1.283)(-5.5,-1.826)(-4.6,-2.467)(-3.9,-2.960)(-3.3,-3.108)(-2.7,-2.861)(-2.2,-2.319)(-1.7,-1.629)(-1.2,-1.086)(-0.6,-0.766)(-0.2,-0.593)(0.2,0.344)(0.7,1.626)(1.2,3.105)(1.7,4.042)(2.1,4.337)(2.5,4.387)(2.9,4.140)(3.4,3.351)(4,2.217)(4.7,1.133)(5.5,0.294)(6.5,-0.199)(8,-0.445)(10,-0.544)(20,-0.544)}
\pan{408.5}{145.6}{4.59}{rR}{(-20,-0.458)(-10,-0.508)(-8,-0.735)(-6.5,-1.215)(-5.5,-1.770)(-4.6,-2.427)(-3.9,-2.931)(-3.3,-3.083)(-2.7,-2.830)(-2.2,-2.275)(-1.7,-1.568)(-1.2,-1.013)(-0.6,-0.685)(-0.2,-0.508)(0.2,0.451)(0.7,1.764)(1.2,3.279)(1.7,4.238)(2.1,4.541)(2.5,4.591)(2.9,4.339)(3.4,3.531)(4,2.370)(4.7,1.259)(5.5,0.401)(6.5,-0.104)(8,-0.357)(10,-0.458)(20,-0.458)}
\pan{581.25}{145.6}{4.80}{rR}{(-20,-0.371)(-10,-0.423)(-8,-0.655)(-6.5,-1.146)(-5.5,-1.715)(-4.6,-2.386)(-3.9,-2.903)(-3.3,-3.058)(-2.7,-2.800)(-2.2,-2.231)(-1.7,-1.508)(-1.2,-0.940)(-0.6,-0.604)(-0.2,-0.423)(0.2,0.559)(0.7,1.902)(1.2,3.452)(1.7,4.434)(2.1,4.744)(2.5,4.796)(2.9,4.538)(3.4,3.711)(4,2.522)(4.7,1.386)(5.5,0.507)(6.5,-0.009)(8,-0.268)(10,-0.371)(20,-0.371)}
\pan{754}{145.6}{5.00}{rR}{(-20,-0.285)(-10,-0.338)(-8,-0.576)(-6.5,-1.078)(-5.5,-1.659)(-4.6,-2.346)(-3.9,-2.875)(-3.3,-3.033)(-2.7,-2.769)(-2.2,-2.187)(-1.7,-1.448)(-1.2,-0.866)(-0.6,-0.523)(-0.2,-0.338)(0.2,0.667)(0.7,2.041)(1.2,3.626)(1.7,4.630)(2.1,4.947)(2.5,5.000)(2.9,4.736)(3.4,3.890)(4,2.675)(4.7,1.512)(5.5,0.614)(6.5,0.085)(8,-0.179)(10,-0.285)(20,-0.285)}
\pgfresetboundingbox
\path[use as bounding box] (0,0) rectangle (860pt,1555pt);
\end{tikzpicture}
\end{document}
